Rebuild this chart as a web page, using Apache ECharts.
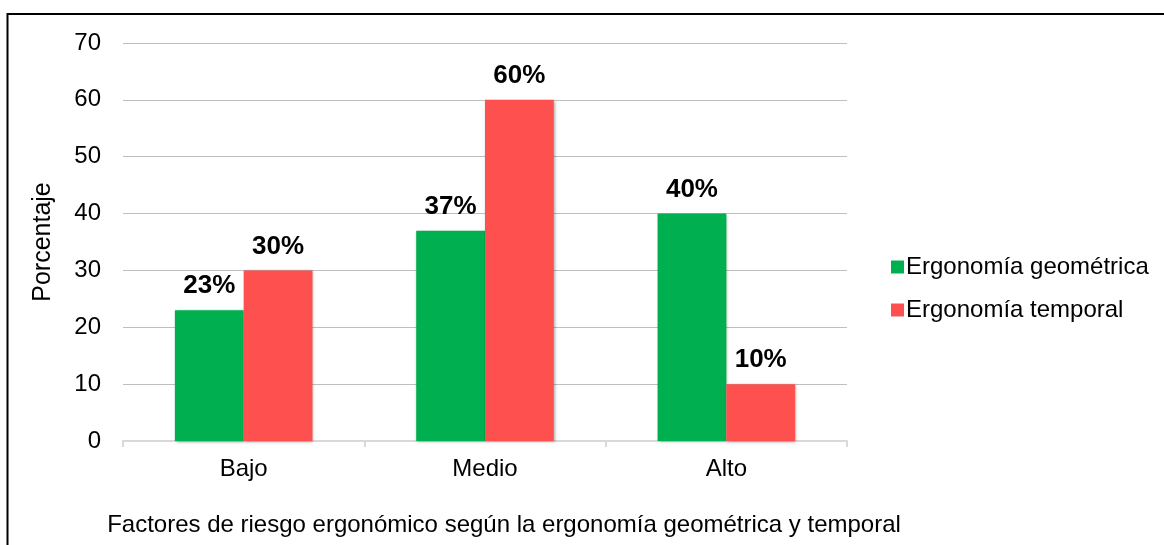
<!DOCTYPE html>
<html>
<head>
<meta charset="utf-8">
<script src="https://cdn.jsdelivr.net/npm/echarts@6/dist/echarts.min.js"></script>
<style>
  html, body { margin: 0; padding: 0; background: #fff; }
  #chart { width: 1164px; height: 545px; }
</style>
</head>
<body>
<div id="chart"></div>
<script>
// Risk levels and the share of each ergonomic factor (percent)
const categories = ['Bajo', 'Medio', 'Alto'];
const geometrica = [23, 37, 40];
const temporal = [30, 60, 10];
const seriesNames = ['Ergonomía geométrica', 'Ergonomía temporal'];
const yTicks = { min: 0, max: 70, interval: 10 };

const font = 'Arial, "Liberation Sans", sans-serif';
const barShadow = {
  shadowBlur: 3,
  shadowColor: 'rgba(0,0,0,0.35)',
  shadowOffsetX: 1,
  shadowOffsetY: 1
};
const valueLabel = {
  show: true,
  position: 'top',
  distance: 11,
  formatter: '{c}%',
  fontFamily: font,
  fontSize: 26,
  fontWeight: 'bold',
  color: '#000'
};

const chart = echarts.init(document.getElementById('chart'), null, { renderer: 'canvas' });
chart.setOption({
  animation: false,
  backgroundColor: '#fff',
  textStyle: { fontFamily: font },
  graphic: [{
    type: 'rect',
    shape: { x: 7.5, y: 14, width: 1170, height: 560 },
    style: { fill: 'none', stroke: '#000', lineWidth: 2 },
    silent: true
  }],
  title: {
    text: 'Factores de riesgo ergonómico según la ergonomía geométrica y temporal',
    left: 499,
    textAlign: 'center',
    top: 508,
    textStyle: { fontFamily: font, fontSize: 24, fontWeight: 'normal', color: '#000' }
  },
  legend: {
    orient: 'vertical',
    left: 886,
    top: 250,
    itemWidth: 13,
    itemHeight: 13,
    itemGap: 19,
    icon: 'rect',
    textStyle: { fontFamily: font, fontSize: 24, color: '#000', padding: [0, 0, 0, -3] },
    data: seriesNames
  },
  grid: { left: 123, right: 317, top: 43, bottom: 104, containLabel: false },
  xAxis: {
    type: 'category',
    data: categories,
    axisLine: { show: true, lineStyle: { color: '#d9d9d9', width: 2 } },
    axisTick: { show: true, length: 6, lineStyle: { color: '#d9d9d9', width: 2 } },
    axisLabel: { fontFamily: font, fontSize: 24, color: '#000', margin: 16 }
  },
  yAxis: {
    type: 'value',
    min: yTicks.min,
    max: yTicks.max,
    interval: yTicks.interval,
    name: 'Porcentaje',
    nameLocation: 'middle',
    nameGap: 67,
    nameRotate: 90,
    nameTextStyle: { fontFamily: font, fontSize: 25, color: '#000' },
    axisLine: { show: false },
    axisTick: { show: false },
    axisLabel: { fontFamily: font, fontSize: 24, color: '#000', margin: 22 },
    splitLine: { lineStyle: { color: '#bfbfbf', width: 1 } }
  },
  series: [
    {
      name: seriesNames[0],
      type: 'bar',
      data: geometrica,
      barGap: '0%',
      barCategoryGap: '43%',
      itemStyle: Object.assign({ color: '#00B050' }, barShadow),
      label: valueLabel
    },
    {
      name: seriesNames[1],
      type: 'bar',
      data: temporal,
      barGap: '0%',
      barCategoryGap: '43%',
      itemStyle: Object.assign({ color: '#FF5050' }, barShadow),
      label: valueLabel
    }
  ]
});
</script>
</body>
</html>
